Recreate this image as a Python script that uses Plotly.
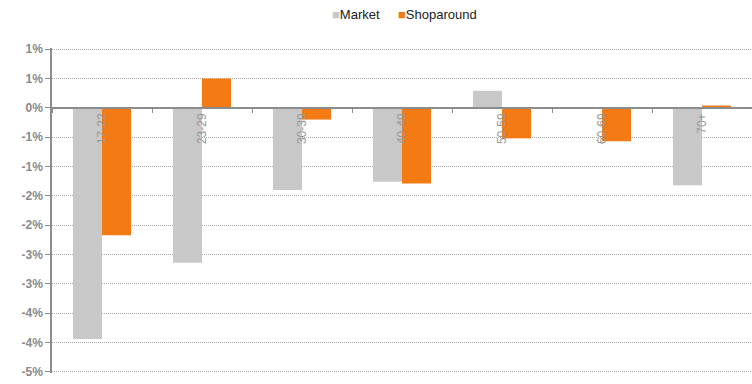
import plotly.graph_objects as go

# Age bands and change in share (percentage points)
age_bands = ["17-22", "23-29", "30-39", "40-49", "50-59", "60-69", "70+"]
market = [-3.94, -2.64, -1.40, -1.26, 0.29, 0.0, -1.32]
shoparound = [-2.17, 0.50, -0.20, -1.29, -0.52, -0.57, 0.04]

y_tick_vals = [1.0, 0.5, 0.0, -0.5, -1.0, -1.5, -2.0, -2.5, -3.0, -3.5, -4.0, -4.5]
y_tick_text = ["1%", "1%", "0%", "-1%", "-1%", "-2%", "-2%", "-3%", "-3%", "-4%", "-4%", "-5%"]

series_names = ["Market", "Shoparound"]
series_colors = ["#c8c8c8", "#f47a14"]
legend_x = [0.397, 0.491]   # left edge of each legend item, paper fraction

Y_MIN, Y_MAX = -4.52, 1.02
GREY_TXT = "#8a8a8a"

fig = go.Figure()
for name, vals, col in zip(series_names, [market, shoparound], series_colors):
    fig.add_trace(go.Bar(name=name, x=age_bands, y=vals, showlegend=False,
                         marker=dict(color=col, line=dict(width=0))))

# Compact legend: small coloured squares right next to the labels
for name, col, lx in zip(series_names, series_colors, legend_x):
    fig.add_annotation(text=f"<span style='color:{col}'>■</span>{name}",
                       xref="paper", yref="paper", x=lx, y=1.0, yshift=34,
                       xanchor="left", yanchor="middle", showarrow=False,
                       font=dict(size=13, color="#222222",
                                 family="Liberation Sans, Arial, sans-serif"))

fig.update_layout(
    width=752, height=384,
    margin=dict(l=52, r=0, t=48, b=11),
    paper_bgcolor="white", plot_bgcolor="white",
    barmode="group", bargap=0.42, bargroupgap=0,
    font=dict(family="Liberation Sans, Arial, sans-serif", size=12, color="#333333"),
    xaxis=dict(
        anchor="free",
        position=(0 - Y_MIN) / (Y_MAX - Y_MIN),
        showline=True, linecolor="#8c8c8c", linewidth=1.5,
        ticks="outside", tickson="boundaries", ticklen=4, tickcolor="#8c8c8c",
        tickangle=-90, tickfont=dict(size=12, color="#999999"),
        showgrid=False,
    ),
    yaxis=dict(
        range=[Y_MIN, Y_MAX],
        tickvals=y_tick_vals, ticktext=y_tick_text,
        tickfont=dict(size=12, color=GREY_TXT, weight="bold"),
        showgrid=True, gridcolor="#a8a8a8", griddash="1px,1px", gridwidth=1,
        zeroline=False,
        showline=True, linecolor="#8c8c8c", linewidth=1.5,
        ticks="outside", ticklen=5, tickcolor="#8c8c8c",
    ),
)

fig.write_html("out.html")
